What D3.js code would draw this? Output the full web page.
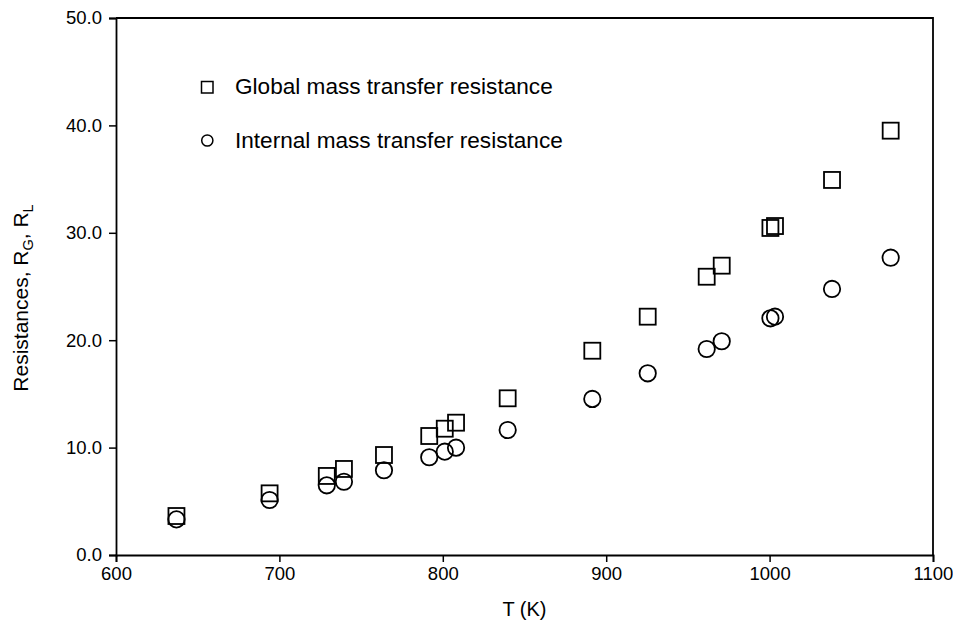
<!DOCTYPE html>
<html>
<head>
<meta charset="UTF-8" />
<title>Resistances vs T</title>
<script src="https://cdn.jsdelivr.net/npm/d3@7"></script>
<style>
  body { margin: 0; background: #fff; }
  svg text { font-family: "Liberation Sans", Arial, Helvetica, sans-serif; fill: #000; }
</style>
</head>
<body>
<div id="chart"></div>
<script>
// temperature of each run (K)
const temps = [637, 694, 729, 739.5, 764, 791.7, 801.2, 808.1, 839.7, 891.5, 925.4, 961.5, 970.7, 1000.5, 1003.3, 1038.2, 1074.1];
// global mass transfer resistance R_G
const globalRes = [3.63, 5.74, 7.36, 8.01, 9.31, 11.08, 11.76, 12.32, 14.59, 19.02, 22.19, 25.91, 26.94, 30.45, 30.63, 34.92, 39.51];
// internal mass transfer resistance R_L
const internalRes = [3.32, 5.12, 6.49, 6.82, 7.89, 9.10, 9.62, 9.99, 11.64, 14.53, 16.92, 19.18, 19.90, 22.04, 22.19, 24.77, 27.68];
const xTicks = [600, 700, 800, 900, 1000, 1100];
const yTicks = [0, 10, 20, 30, 40, 50];
const legendLabels = ["Global mass transfer resistance", "Internal mass transfer resistance"];

const w = 953, h = 624;
const mLeft = 116, mRight = 933, mTop = 18, mBottom = 555;

const svg = d3.select('#chart').append('svg')
    .attr('width', w)
    .attr('height', h);

const xScale = d3.scaleLinear().domain([600, 1100]).range([mLeft, mRight]);
const yScale = d3.scaleLinear().domain([0, 50]).range([mBottom, mTop]);

// frame top + right
svg.append('path')
    .attr('d', `M${mLeft},${mTop}H${mRight}V${mBottom}`)
    .attr('fill', 'none')
    .attr('stroke', '#000')
    .attr('stroke-width', 1.8);

const xAxis = d3.axisBottom(xScale).tickValues(xTicks).tickFormat(d3.format('d')).tickSizeOuter(0).tickSize(7).tickPadding(5);
const yAxis = d3.axisLeft(yScale).tickValues(yTicks).tickFormat(d3.format('.1f')).tickSizeOuter(0).tickSize(7).tickPadding(7);

const gx = svg.append('g')
    .attr('transform', 'translate(0,' + mBottom + ')')
    .call(xAxis);
const gy = svg.append('g')
    .attr('transform', 'translate(' + mLeft + ',0)')
    .call(yAxis);

[gx, gy].forEach(g => {
    g.select('.domain').attr('stroke-width', 1.8);
    g.selectAll('.tick line').attr('stroke-width', 1.5);
    g.selectAll('.tick text')
        .style('font-family', '"Liberation Sans", Arial, sans-serif')
        .style('font-size', '18.5px')
        .attr('fill', '#000');
});

// global resistance: open squares
const sq = 16;
svg.append('g').selectAll('rect')
    .data(temps.map((t, i) => [t, globalRes[i]]))
    .enter()
    .append('rect')
    .attr('x', d => xScale(d[0]) - sq / 2)
    .attr('y', d => yScale(d[1]) - sq / 2)
    .attr('width', sq)
    .attr('height', sq)
    .attr('fill', 'none')
    .attr('stroke', '#000')
    .attr('stroke-width', 1.8);

// internal resistance: open circles
svg.append('g').selectAll('circle')
    .data(temps.map((t, i) => [t, internalRes[i]]))
    .enter()
    .append('circle')
    .attr('cx', d => xScale(d[0]))
    .attr('cy', d => yScale(d[1]))
    .attr('r', 8.2)
    .attr('fill', 'none')
    .attr('stroke', '#000')
    .attr('stroke-width', 1.8);

// legend
const legend = svg.append('g');
legend.append('rect')
    .attr('x', 201.5).attr('y', 81.5)
    .attr('width', 11.5).attr('height', 11.5)
    .attr('fill', 'none').attr('stroke', '#000').attr('stroke-width', 1.5);
legend.append('circle')
    .attr('cx', 207.3).attr('cy', 140.5).attr('r', 5.6)
    .attr('fill', 'none').attr('stroke', '#000').attr('stroke-width', 1.5);
legend.selectAll('text')
    .data(legendLabels)
    .enter()
    .append('text')
    .attr('x', 235)
    .attr('y', (d, i) => 94 + i * 54)
    .style('font-size', '22.6px')
    .text(d => d);

// axis titles
svg.append('text')
    .attr('x', (mLeft + mRight) / 2)
    .attr('y', 616)
    .attr('text-anchor', 'middle')
    .style('font-size', '20px')
    .text('T (K)');

const yt = svg.append('text')
    .attr('transform', `translate(28,298) rotate(-90)`)
    .attr('text-anchor', 'middle')
    .style('font-size', '21px');
yt.append('tspan').text('Resistances, R');
yt.append('tspan').attr('dy', 5).style('font-size', '14.5px').text('G');
yt.append('tspan').attr('dy', -5).text(', R');
yt.append('tspan').attr('dy', 5).style('font-size', '14.5px').text('L');
</script>
</body>
</html>
